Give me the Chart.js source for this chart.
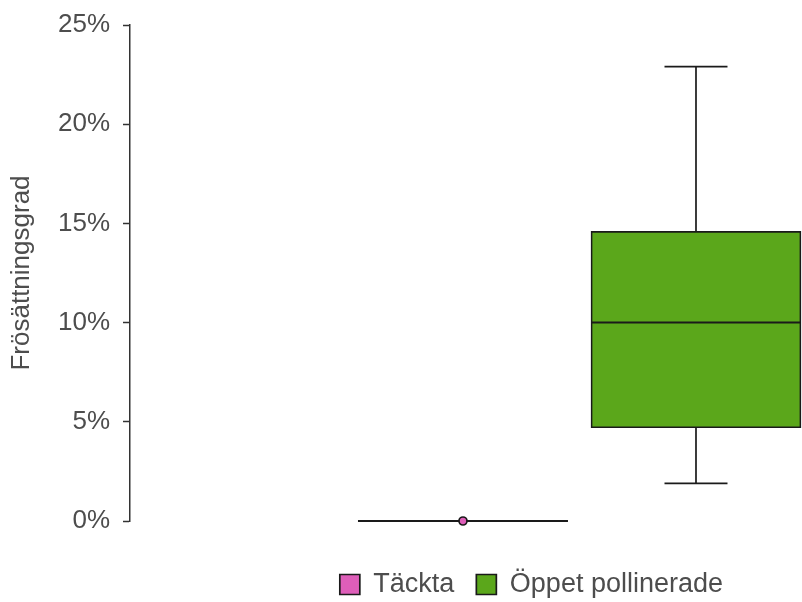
<!DOCTYPE html>
<html>
<head>
<meta charset="utf-8">
<script src="https://cdn.jsdelivr.net/npm/chart.js@4.4.1/dist/chart.umd.min.js"></script>
<style>
  html, body { margin: 0; padding: 0; background: #ffffff; overflow: hidden; }
  #wrap { width: 802px; height: 602px; overflow: hidden; }
  canvas { display: block; }
</style>
</head>
<body>
<div id="wrap"><canvas id="chart" width="802" height="608"></canvas></div>
<script>
// Box plot summary per treatment (fractions, shown as percent)
const groups = ['Täckta', 'Öppet pollinerade'];
const positions = [1, 2];
const whiskerLow = [0, 0.019];
const quartile1 = [0, 0.047];
const medians = [0, 0.100];
const quartile3 = [0, 0.146];
const whiskerHigh = [0, 0.229];
const outliers = [[0], []];
const yTickValues = [0, 0.05, 0.10, 0.15, 0.20, 0.25];
const fillColors = ['#DE5EB9', '#5BA71B'];

const FONT = "'Liberation Sans', Arial, Helvetica, sans-serif";
const TEXT_GREY = '#4D4D4D';
const LINE = '#1A1A1A';

// Whiskers, caps, medians and outlier points drawn on top of the box bars
const boxplotParts = {
  id: 'boxplotParts',
  afterDatasetsDraw(chart) {
    const ctx = chart.ctx;
    const ys = chart.scales.y;
    chart.data.datasets.forEach((ds, i) => {
      const bar = chart.getDatasetMeta(i).data[0];
      if (!bar) return;
      const cx = bar.x;
      const half = bar.width / 2;
      const capHalf = half * 0.3;
      const yLo = ys.getPixelForValue(whiskerLow[i]);
      const yQ1 = ys.getPixelForValue(quartile1[i]);
      const yMed = ys.getPixelForValue(medians[i]);
      const yQ3 = ys.getPixelForValue(quartile3[i]);
      const yHi = ys.getPixelForValue(whiskerHigh[i]);
      ctx.save();
      ctx.strokeStyle = LINE;
      ctx.lineWidth = 1.7;
      ctx.lineCap = 'butt';
      ctx.beginPath();
      // upper whisker and cap
      ctx.moveTo(cx, yQ3); ctx.lineTo(cx, yHi);
      ctx.moveTo(cx - capHalf, yHi); ctx.lineTo(cx + capHalf, yHi);
      // lower whisker and cap
      ctx.moveTo(cx, yQ1); ctx.lineTo(cx, yLo);
      ctx.moveTo(cx - capHalf, yLo); ctx.lineTo(cx + capHalf, yLo);
      ctx.stroke();
      // median
      ctx.lineWidth = 2;
      ctx.beginPath();
      ctx.moveTo(cx - half, yMed); ctx.lineTo(cx + half, yMed);
      ctx.stroke();
      // outliers
      ctx.fillStyle = fillColors[i];
      ctx.lineWidth = 1.7;
      outliers[i].forEach(v => {
        const py = ys.getPixelForValue(v);
        ctx.beginPath();
        ctx.arc(cx, py, 4, 0, Math.PI * 2);
        ctx.fill();
        ctx.stroke();
      });
      ctx.restore();
    });
  }
};

const datasets = groups.map((g, i) => ({
  label: g,
  data: [{ x: positions[i], y: [quartile1[i], quartile3[i]] }],
  backgroundColor: fillColors[i],
  borderColor: LINE,
  borderWidth: 1.7,
  borderSkipped: false,
  barThickness: 210,
  grouped: false,
  clip: false
}));

new Chart(document.getElementById('chart'), {
  type: 'bar',
  data: { datasets },
  plugins: [boxplotParts],
  options: {
    responsive: false,
    animation: false,
    events: [],
    layout: { padding: { top: 25, right: 57, bottom: 0, left: 0 } },
    scales: {
      x: {
        type: 'linear',
        offset: false,
        min: -0.429,
        max: 2.2103,
        grid: { display: false },
        border: { display: false },
        ticks: { display: false },
        afterFit: s => { s.height = 28; }
      },
      y: {
        min: 0,
        max: 0.25,
        afterBuildTicks: s => { s.ticks = yTickValues.map(v => ({ value: v })); },
        afterFit: s => { s.width = 130; s.paddingTop = 0; s.paddingBottom = 0; },
        ticks: {
          callback: v => Math.round(v * 100) + '%',
          color: TEXT_GREY,
          font: { family: FONT, size: 26 },
          padding: 13
        },
        grid: {
          display: true,
          drawOnChartArea: false,
          drawTicks: true,
          tickLength: 7,
          tickColor: '#333333',
          tickWidth: 1.5
        },
        border: { display: true, color: '#333333', width: 1.5 },
        title: {
          display: true,
          text: 'Frösättningsgrad',
          color: TEXT_GREY,
          font: { family: FONT, size: 26 },
          padding: { top: 6, bottom: 0 }
        }
      }
    },
    plugins: {
      tooltip: { enabled: false },
      legend: {
        position: 'bottom',
        align: 'end',
        labels: {
          boxWidth: 20,
          boxHeight: 20,
          padding: 22,
          color: TEXT_GREY,
          font: { family: FONT, size: 27 }
        }
      }
    }
  }
});
</script>
</body>
</html>
